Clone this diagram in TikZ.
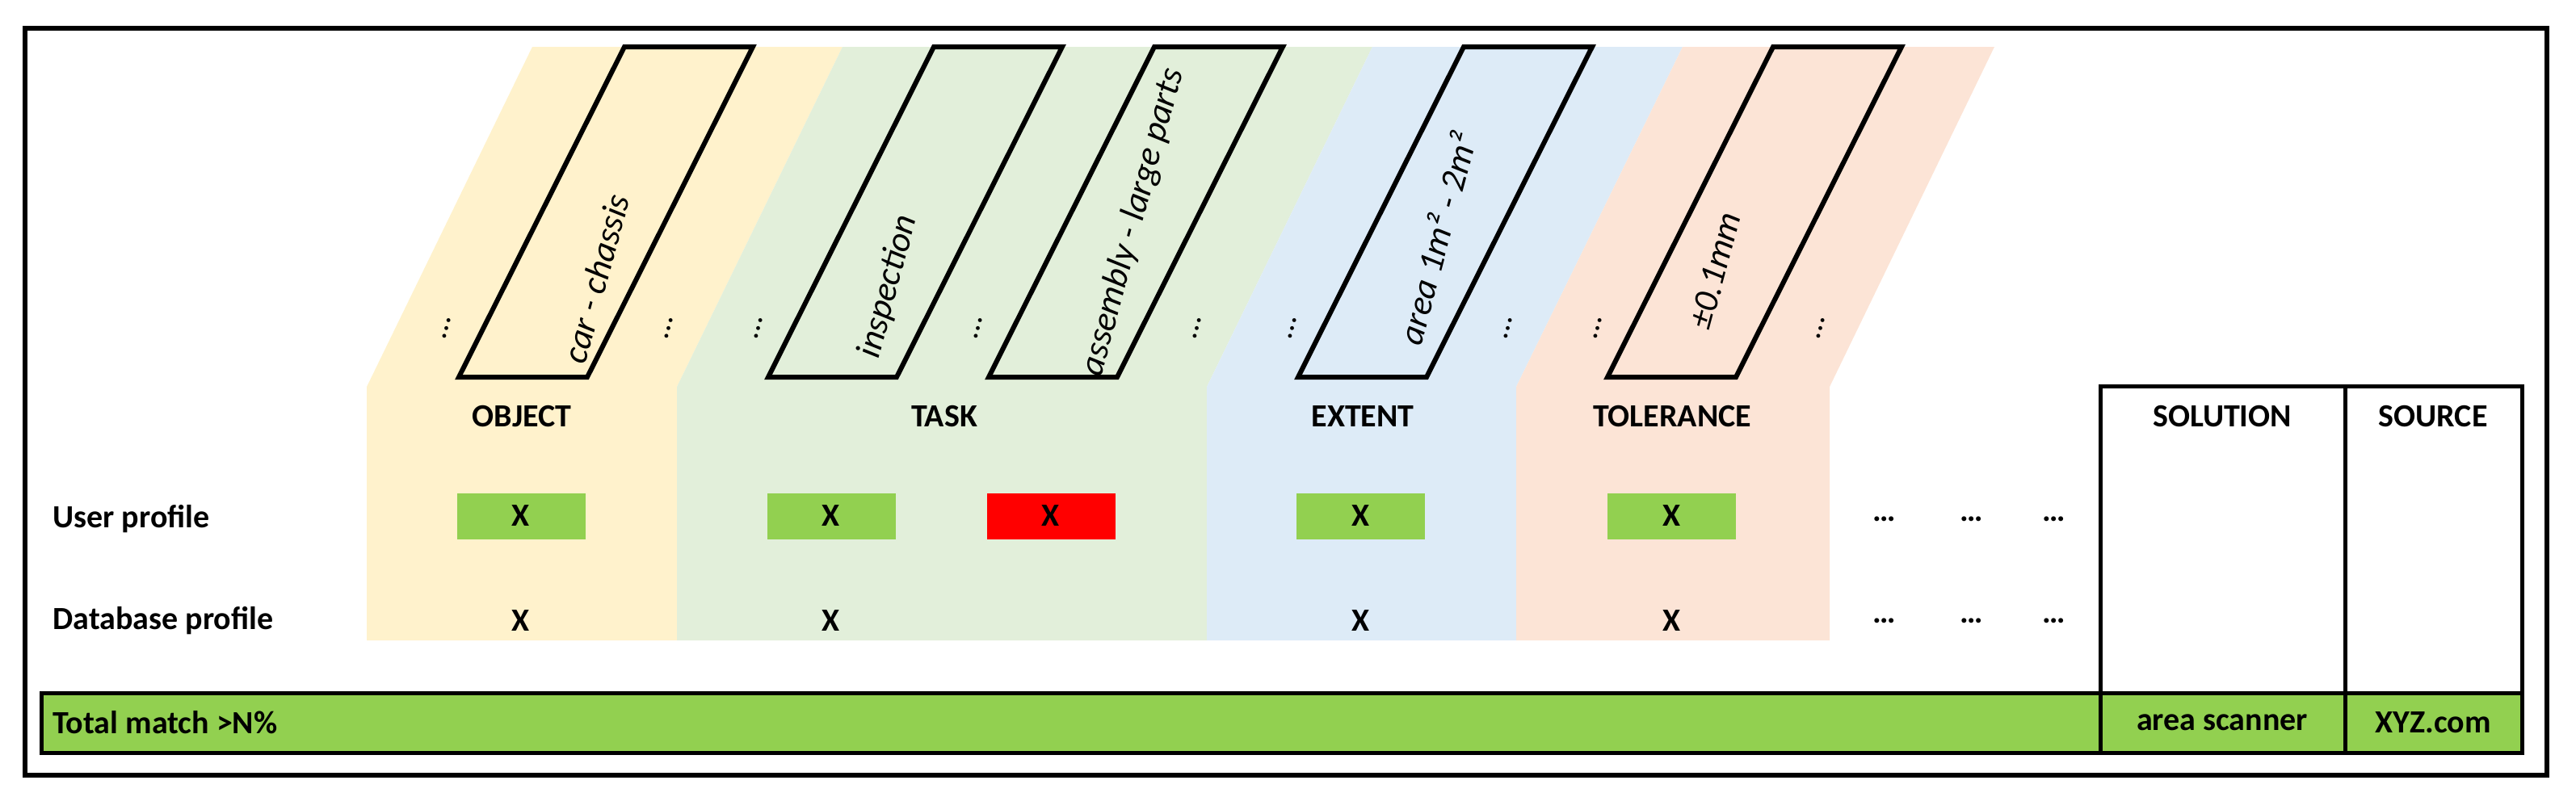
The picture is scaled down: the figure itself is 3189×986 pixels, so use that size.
\documentclass[tikz,border=0pt]{standalone}
\usepackage{fontspec}
\setmainfont{Carlito}
\definecolor{cY}{HTML}{FFF2CC}
\definecolor{cG}{HTML}{E2EFDA}
\definecolor{cB}{HTML}{DDEBF7}
\definecolor{cO}{HTML}{FCE4D6}
\definecolor{okg}{HTML}{92D050}
\begin{document}
\begin{tikzpicture}[x=1pt,y=-1pt,
  hdr/.style={font=\fontsize{40}{44}\selectfont\bfseries},
  lbl/.style={font=\fontsize{40}{44}\selectfont\bfseries,anchor=west},
  val/.style={font=\fontsize{44}{48}\selectfont\itshape,rotate=75},
  dts/.style={font=\fontsize{40}{44}\selectfont,rotate=75},
  xb/.style={minimum width=159pt,minimum height=57pt,inner sep=0pt,font=\fontsize{40}{44}\selectfont\bfseries},
  par/.style={line width=6pt,line join=miter},
  cell/.style={draw,line width=5pt,inner sep=0pt}]
\useasboundingbox (0,0) rectangle (3189,986);
\draw[line width=6pt] (31,35) rectangle (3153,960);
% bands
\fill[cY] (454,479) -- (659,58) -- (1043,58) -- (838,479) -- (838,793) -- (454,793) -- cycle;
\fill[cG] (838,479) -- (1043,58) -- (1699,58) -- (1494,479) -- (1494,793) -- (838,793) -- cycle;
\fill[cB] (1494,479) -- (1699,58) -- (2083,58) -- (1877,479) -- (1877,793) -- (1494,793) -- cycle;
\fill[cO] (1877,479) -- (2083,58) -- (2469,58) -- (2265,479) -- (2265,793) -- (1877,793) -- cycle;
% parallelogram boxes
\foreach \bx in {568,951,1224,1607,1990}
  \draw[par] (\bx,467) -- ({\bx+159},467) -- ({\bx+364},58) -- ({\bx+205},58) -- cycle;
\node[val] (tcar) at (738,345) {car - chassis};
\node[val] (tinsp) at (1100,355) {inspection};
\node[val] (tasm) at (1403,275) {assembly - large parts};
\node[val] (tarea) at (1778,295) {area 1m² - 2m²};
\node[val] (ttol) at (2123,335) {±0.1mm};
\foreach \n/\x in {d1/553,d2/828,d3/939,d4/1211,d5/1482,d6/1600,d7/1867,d8/1978,d9/2254}
  \node[dts] (\n) at (\x,407) {\ldots};
% headers
\node[hdr] (hobj) at (646,516) {OBJECT};
\node[hdr] (htask) at (1169,516) {TASK};
\node[hdr] (hext) at (1687,516) {EXTENT};
\node[hdr] (htol) at (2070,516) {TOLERANCE};
% rows
\node[lbl] (up) at (62,643) {User profile};
\node[lbl] (dp) at (62,769) {Database profile};
\node[xb,fill=okg] (x1) at (645,639) {X};
\node[xb,fill=okg] (x2) at (1029,639) {X};
\node[xb,fill=red] (x3) at (1301,639) {X};
\node[xb,fill=okg] (x4) at (1684,639) {X};
\node[xb,fill=okg] (x5) at (2069,639) {X};
\node[xb] (y1) at (645,769) {X};
\node[xb] (y2) at (1029,769) {X};
\node[xb] (y4) at (1684,769) {X};
\node[xb] (y5) at (2069,769) {X};
\foreach \n/\x in {a/2333,b/2441,c/2543}{
  \node[hdr] (u\n) at (\x,643) {\ldots};
  \node[hdr] (v\n) at (\x,769) {\ldots};
}
% bottom
\draw[line width=5pt,fill=okg] (51,858) rectangle (3122,932);
\draw[line width=5pt] (2600,478) rectangle (2903,932);
\draw[line width=5pt] (2903,478) rectangle (3122,932);
\node[lbl] (tm) at (62,895) {Total match >N\%};
\node[hdr] (sol) at (2751,516) {SOLUTION};
\node[hdr] (src) at (3012,516) {SOURCE};
\node[hdr] (scn) at (2751,895) {area scanner};
\node[hdr] (xyz) at (3012,895) {XYZ.com};
\end{tikzpicture}
\end{document}
